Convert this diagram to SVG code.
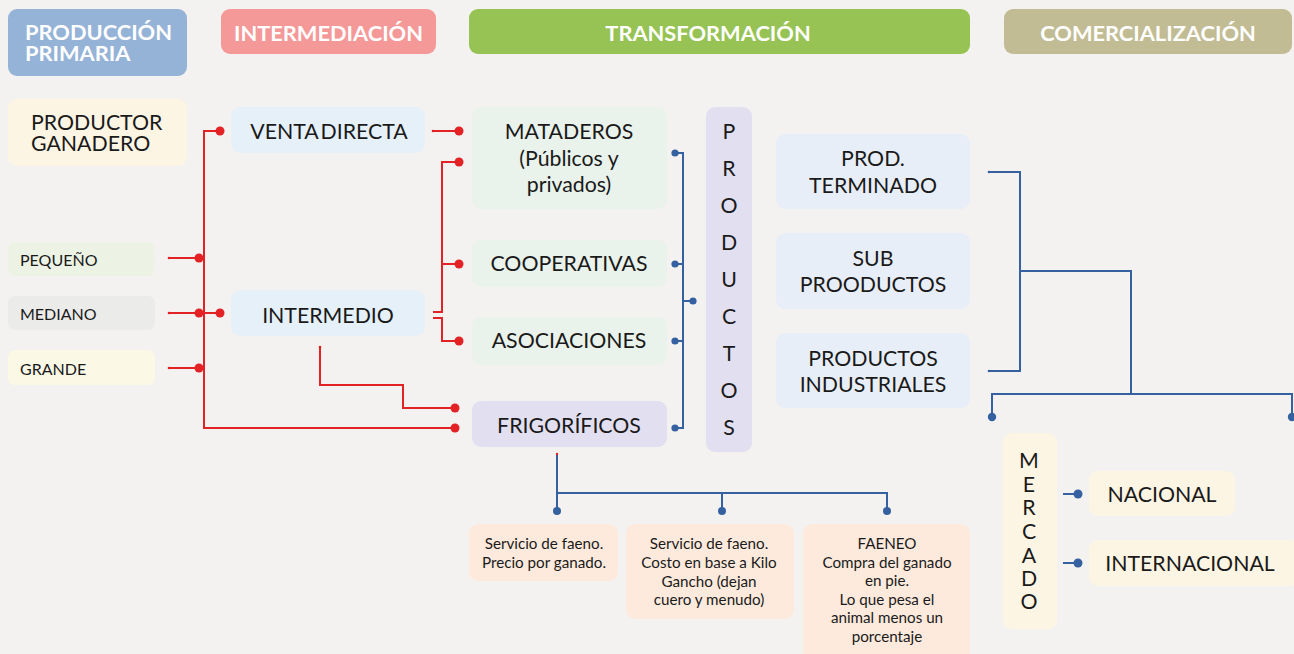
<svg xmlns="http://www.w3.org/2000/svg" width="1294" height="654" viewBox="0 0 1294 654">
<style>
.hdr{font-family:Lato,"Liberation Sans",sans-serif;font-weight:bold;font-size:21.8px;fill:#ffffff}
.t{font-family:Lato,"Liberation Sans",sans-serif;font-size:21.3px;fill:#1a1a1a}
.s{font-family:Lato,"Liberation Sans",sans-serif;font-size:16px;fill:#1a1a1a}
.b{font-family:Lato,"Liberation Sans",sans-serif;font-size:15.2px;fill:#1a1a1a;text-anchor:middle}
.c{text-anchor:middle}
.red{fill:none;stroke:#e32226;stroke-width:2}
.blue{fill:none;stroke:#3561a0;stroke-width:2}
.rd{fill:#e32226}
.bd{fill:#3561a0}
</style>
<rect width="1294" height="654" fill="#f3f2f0"/>

<g id="headers">
<g id="h-produccion"><rect x="8" y="9" width="179" height="67" rx="9" fill="#95b3d7"/><text class="hdr" x="25" y="40">PRODUCCIÓN</text><text class="hdr" x="25" y="61">PRIMARIA</text></g>
<g id="h-intermediacion"><rect x="221" y="9" width="215" height="45" rx="9" fill="#f49898"/><text class="hdr c" x="328.5" y="41">INTERMEDIACIÓN</text></g>
<g id="h-transformacion"><rect x="469" y="9" width="501" height="45" rx="9" fill="#96c353"/><text class="hdr c" x="708" y="41">TRANSFORMACIÓN</text></g>
<g id="h-comercializacion"><rect x="1004" y="9" width="288" height="45" rx="9" fill="#c2bc94"/><text class="hdr c" x="1148" y="41">COMERCIALIZACIÓN</text></g>
</g>

<g id="connectors">
<polyline class="red" points="220,131 204,131 204,428 455,428"/>
<line class="red" x1="169" y1="258" x2="199" y2="258"/>
<line class="red" x1="169" y1="313" x2="220" y2="313"/>
<line class="red" x1="169" y1="368" x2="199" y2="368"/>
<line class="red" x1="433" y1="131" x2="459" y2="131"/>
<polyline class="red" points="433,312 442,312 442,162 459,162"/>
<line class="red" x1="442" y1="264" x2="459" y2="264"/>
<polyline class="red" points="433,318 442,318 442,341 459,341"/>
<polyline class="red" points="320,347 320,385 403,385 403,408 455,408"/>
<circle class="rd" cx="220" cy="131" r="4.5"/>
<circle class="rd" cx="199" cy="258" r="4.5"/>
<circle class="rd" cx="199" cy="313" r="4.5"/>
<circle class="rd" cx="220" cy="313" r="4.5"/>
<circle class="rd" cx="199" cy="368" r="4.5"/>
<circle class="rd" cx="459" cy="131" r="4.5"/>
<circle class="rd" cx="459" cy="162" r="4.5"/>
<circle class="rd" cx="459" cy="264" r="4.5"/>
<circle class="rd" cx="459" cy="341" r="4.5"/>
<circle class="rd" cx="455" cy="408" r="4.5"/>
<circle class="rd" cx="455" cy="428" r="4.5"/>
<circle class="rd" cx="169" cy="258" r="1.3"/>
<circle class="rd" cx="169" cy="313" r="1.3"/>
<circle class="rd" cx="169" cy="368" r="1.3"/>
<circle class="rd" cx="433" cy="131" r="1.3"/>
<circle class="rd" cx="320" cy="347" r="1.3"/>
<polyline class="blue" points="675,153 683,153 683,428 675,428"/>
<line class="blue" x1="675" y1="264" x2="683" y2="264"/>
<line class="blue" x1="675" y1="341" x2="683" y2="341"/>
<line class="blue" x1="683" y1="301" x2="693" y2="301"/>
<circle class="bd" cx="675" cy="153" r="3.6"/>
<circle class="bd" cx="675" cy="264" r="3.6"/>
<circle class="bd" cx="675" cy="341" r="3.6"/>
<circle class="bd" cx="675" cy="428" r="3.6"/>
<circle class="bd" cx="693" cy="301" r="3.6"/>
<polyline class="blue" points="989,172 1020,172 1020,371 989,371"/>
<polyline class="blue" points="1020,271 1131,271 1131,394"/>
<polyline class="blue" points="992,417 992,394 1292,394 1292,417"/>
<circle class="bd" cx="989" cy="172" r="1.3"/>
<circle class="bd" cx="989" cy="371" r="1.3"/>
<circle class="bd" cx="992" cy="417" r="4.2"/>
<circle class="bd" cx="1292" cy="417" r="4.2"/>
<polyline class="blue" points="557,454 557,511"/>
<polyline class="blue" points="557,493 887,493 887,511"/>
<line class="blue" x1="722" y1="493" x2="722" y2="511"/>
<circle class="bd" cx="557" cy="511" r="4"/>
<circle class="bd" cx="722" cy="511" r="4"/>
<circle class="bd" cx="887" cy="511" r="4"/>
<circle class="rd" cx="557" cy="454" r="1.2"/>
<line class="blue" x1="1063" y1="494" x2="1078" y2="494"/>
<line class="blue" x1="1063" y1="563" x2="1078" y2="563"/>
<circle class="bd" cx="1078" cy="494" r="4.5"/>
<circle class="bd" cx="1078" cy="563" r="4.5"/>
</g>

<g id="productor"><rect x="8" y="99" width="179" height="67" rx="9" fill="#fdf5e4"/><text class="t" x="31" y="130">PRODUCTOR</text><text class="t" x="31" y="151">GANADERO</text></g>
<g id="pequeno"><rect x="8" y="242" width="147" height="34" rx="7" fill="#edf3e4"/><text class="s" x="20" y="266">PEQUEÑO</text></g>
<g id="mediano"><rect x="8" y="296" width="147" height="34" rx="7" fill="#ebebea"/><text class="s" x="20" y="320">MEDIANO</text></g>
<g id="grande"><rect x="8" y="350" width="147" height="35" rx="7" fill="#fbf8e6"/><text class="s" x="20" y="375">GRANDE</text></g>

<g id="venta-directa"><rect x="231" y="107" width="194" height="46" rx="9" fill="#e6f0f9"/><text class="t c" x="329" y="139" word-spacing="-3">VENTA DIRECTA</text></g>
<g id="intermedio"><rect x="231" y="290" width="194" height="46" rx="9" fill="#e6f0f9"/><text class="t c" x="328" y="323">INTERMEDIO</text></g>

<g id="mataderos"><rect x="472" y="107" width="195" height="102" rx="9" fill="#e9f2eb"/><text class="t c" x="569" y="139">MATADEROS</text><text class="t c" x="569" y="166">(Públicos y</text><text class="t c" x="569" y="192">privados)</text></g>
<g id="cooperativas"><rect x="472" y="240" width="195" height="47" rx="9" fill="#e9f2eb"/><text class="t c" x="569" y="271">COOPERATIVAS</text></g>
<g id="asociaciones"><rect x="472" y="317" width="195" height="48" rx="9" fill="#e9f2eb"/><text class="t c" x="569" y="348">ASOCIACIONES</text></g>
<g id="frigorificos"><rect x="472" y="401" width="195" height="46" rx="9" fill="#e2dff0"/><text class="t c" x="569" y="433">FRIGORÍFICOS</text></g>

<g id="productos"><rect x="706" y="107" width="46" height="345" rx="9" fill="#e2dff0"/>
<text class="t c" x="729" y="139">P</text><text class="t c" x="729" y="176">R</text><text class="t c" x="729" y="213">O</text><text class="t c" x="729" y="250">D</text><text class="t c" x="729" y="287">U</text><text class="t c" x="729" y="324">C</text><text class="t c" x="729" y="361">T</text><text class="t c" x="729" y="398">O</text><text class="t c" x="729" y="435">S</text></g>

<g id="prod-terminado"><rect x="776" y="134" width="194" height="75" rx="9" fill="#e8eef7"/><text class="t c" x="873" y="166">PROD.</text><text class="t c" x="873" y="193">TERMINADO</text></g>
<g id="sub-productos"><rect x="776" y="233" width="194" height="76" rx="9" fill="#e8eef7"/><text class="t c" x="873" y="266">SUB</text><text class="t c" x="873" y="292">PROODUCTOS</text></g>
<g id="productos-industriales"><rect x="776" y="333" width="194" height="75" rx="9" fill="#e8eef7"/><text class="t c" x="873" y="366">PRODUCTOS</text><text class="t c" x="873" y="392">INDUSTRIALES</text></g>

<g id="servicio1"><rect x="469" y="524" width="149" height="57" rx="9" fill="#fdeadd"/><text class="b" x="544" y="549">Servicio de faeno.</text><text class="b" x="544" y="568">Precio por ganado.</text></g>
<g id="servicio2"><rect x="626" y="524" width="168" height="95" rx="9" fill="#fdeadd"/><text class="b" x="709" y="549">Servicio de faeno.</text><text class="b" x="709" y="568">Costo en base a Kilo</text><text class="b" x="709" y="587">Gancho (dejan</text><text class="b" x="709" y="605">cuero y menudo)</text></g>
<g id="faeneo"><rect x="803" y="524" width="167" height="140" rx="9" fill="#fdeadd"/><text class="b" x="887" y="549">FAENEO</text><text class="b" x="887" y="568">Compra del ganado</text><text class="b" x="887" y="586">en pie.</text><text class="b" x="887" y="605">Lo que pesa el</text><text class="b" x="887" y="623">animal menos un</text><text class="b" x="887" y="642">porcentaje</text></g>

<g id="mercado"><rect x="1003" y="433" width="54" height="196" rx="9" fill="#fdf5e4"/>
<text class="t c" x="1029" y="468">M</text><text class="t c" x="1029" y="492">E</text><text class="t c" x="1029" y="515">R</text><text class="t c" x="1029" y="539">C</text><text class="t c" x="1029" y="563">A</text><text class="t c" x="1029" y="586">D</text><text class="t c" x="1029" y="609">O</text></g>
<g id="nacional"><rect x="1089" y="471" width="146" height="45" rx="9" fill="#fdf5e4"/><text class="t c" x="1162" y="502">NACIONAL</text></g>
<g id="internacional"><rect x="1089" y="540" width="210" height="46" rx="9" fill="#fdf5e4"/><text class="t c" x="1190" y="571">INTERNACIONAL</text></g>
</svg>
